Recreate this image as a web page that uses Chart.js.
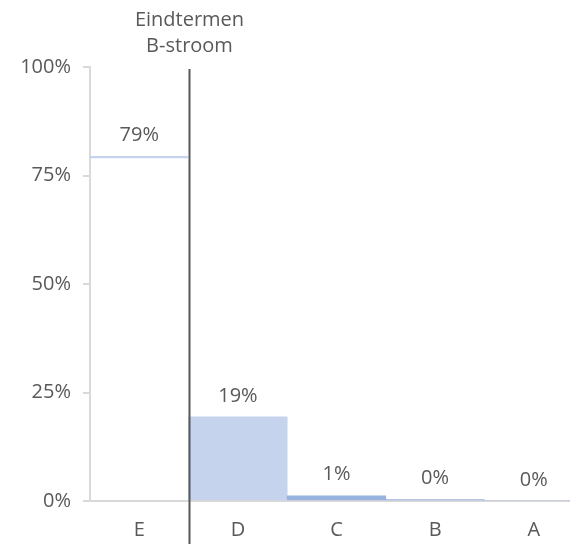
<!DOCTYPE html>
<html>
<head>
<meta charset="utf-8">
<script src="https://cdn.jsdelivr.net/npm/chart.js@4/dist/chart.umd.min.js"></script>
<style>
  html, body { margin: 0; padding: 0; background: #fff; overflow: hidden; }
  #wrap { width: 600px; height: 544px; }
</style>
</head>
<body>
<div id="wrap"><canvas id="grafiek" width="600" height="544"></canvas></div>
<script>
// gegevens
const niveaus = ['E', 'D', 'C', 'B', 'A'];
const percentages = [79.4, 19.4, 1.2, 0.3, 0];
const yTicks = [0, 25, 50, 75, 100];
const scheidingTekst = ['Eindtermen', 'B-stroom'];

const grijs = '#595959';
const lijnGrijs = '#d9d9d9';
const lettertype = '"Open Sans", "Noto Sans", sans-serif';

// labels boven de balken
const labelPlugin = {
    id: 'labels',
    afterDatasetsDraw(chart) {
        const ctx = chart.ctx;
        const meta = chart.getDatasetMeta(0);
        ctx.save();
        ctx.font = '20px ' + lettertype;
        ctx.fillStyle = grijs;
        ctx.textAlign = 'center';
        ctx.textBaseline = 'middle';
        meta.data.forEach(function(bar, i) {
            ctx.fillText(Math.round(percentages[i]) + '%', bar.x, bar.y - 21);
        });
        ctx.restore();
    }
};

// verticale scheidingslijn tussen E en D
const scheidingPlugin = {
    id: 'scheiding',
    afterDraw(chart) {
        const ctx = chart.ctx;
        const x = chart.scales.x;
        const px = Math.round((x.getPixelForValue(0) + x.getPixelForValue(1)) / 2) + 0.5;
        ctx.save();
        ctx.strokeStyle = grijs;
        ctx.lineWidth = 2;
        ctx.beginPath();
        ctx.moveTo(px, chart.chartArea.top + 2);
        ctx.lineTo(px, chart.height);
        ctx.stroke();
        ctx.font = '20px ' + lettertype;
        ctx.fillStyle = grijs;
        ctx.textAlign = 'center';
        ctx.textBaseline = 'middle';
        ctx.fillText(scheidingTekst[0], px, 20);
        ctx.fillText(scheidingTekst[1], px, 46);
        ctx.restore();
    }
};

const ctx = document.getElementById('grafiek').getContext('2d');
new Chart(ctx, {
    type: 'bar',
    data: {
        labels: niveaus,
        datasets: [{
            data: percentages,
            backgroundColor: ['rgba(255,255,255,0)', '#c5d3ed', '#98b3e0', '#98b3e0', '#98b3e0'],
            borderColor: ['#c5d3ed', '#c5d3ed', '#98b3e0', '#98b3e0', '#98b3e0'],
            borderWidth: [{ top: 1.5, left: 0, right: 0, bottom: 0 }, 0, 0, 0, 0],
            borderSkipped: false,
            barPercentage: 1,
            categoryPercentage: 1
        }]
    },
    options: {
        responsive: false,
        animation: false,
        layout: { padding: { top: 67, right: 17, left: 0, bottom: 0 } },
        plugins: {
            legend: { display: false },
            tooltip: { enabled: false }
        },
        scales: {
            x: {
                afterFit: function(scale) { scale.height = 43; },
                grid: { display: false, drawTicks: false },
                border: { color: lijnGrijs, width: 2 },
                ticks: { color: grijs, font: { family: lettertype, size: 20 }, padding: 17 }
            },
            y: {
                min: 0,
                max: 100,
                afterFit: function(scale) { scale.width = 90; },
                afterBuildTicks: function(scale) {
                    scale.ticks = yTicks.map(function(v) { return { value: v }; });
                },
                grid: { drawOnChartArea: false, tickLength: 7, color: lijnGrijs, lineWidth: 2 },
                border: { color: lijnGrijs, width: 2 },
                ticks: {
                    color: grijs,
                    font: { family: lettertype, size: 20 },
                    padding: 12,
                    callback: function(v) { return v + '%'; }
                }
            }
        }
    },
    plugins: [labelPlugin, scheidingPlugin]
});
</script>
</body>
</html>
